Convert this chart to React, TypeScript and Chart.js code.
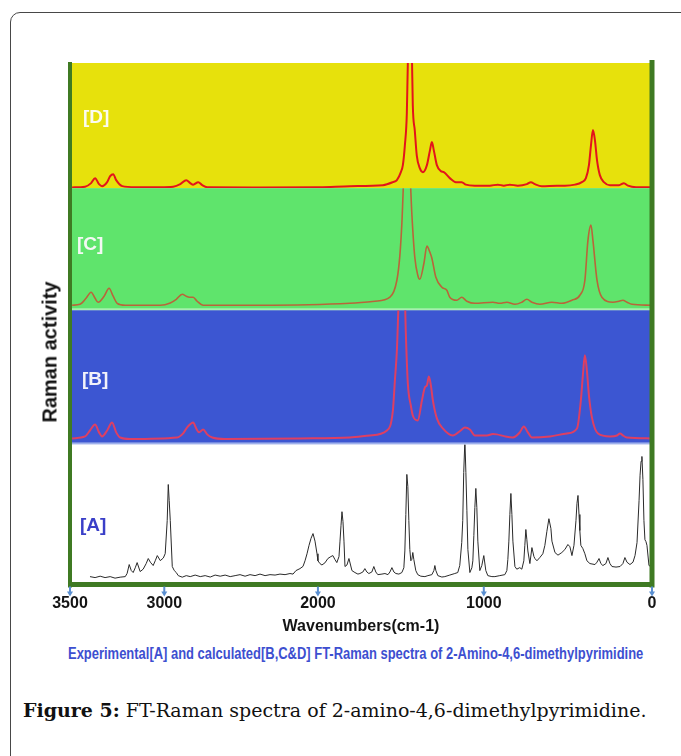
import React, { useEffect, useRef } from 'react';
import { Chart, LinearScale, registerables } from 'chart.js';

Chart.register(...registerables);

// ---------- axis description ----------
const tickValues = [3500, 3000, 2000, 1000, 0];
// the printed axis is not uniform: where each break value sits along the axis (0 = right end, 1 = left end)
const axisBreakValues = [0, 1000, 2000, 3000, 3500];
const axisBreakFractions = [0, 0.289, 0.574, 0.838, 1];

// ---------- spectra: [wavenumber cm-1, relative intensity] ----------
const spectrumD: [number, number][] = [
  [3489, 0.6], [3420, 1.2], [3388, 4], [3367, 8], [3346, 3.2], [3330, 1.6], [3303, 4.8], [3287, 9.6], [3271, 11.2],
  [3255, 6.4], [3223, 1.6], [3154, 0.8], [3021, 0.8], [2942, 1.2], [2896, 3.2], [2857, 6.4], [2831, 4], [2812, 2.8],
  [2779, 4.8], [2753, 2.4], [2721, 0.8], [2377, 0.6], [1988, 0.8], [1807, 1.6], [1608, 2.4], [1548, 4.8], [1524, 6.4],
  [1500, 12.8], [1488, 18.4], [1476, 34], [1464, 60], [1458, 100], [1446, 140], [1434, 110], [1428, 66], [1416, 46],
  [1404, 26], [1386, 16], [1367, 12.8], [1343, 18.4], [1325, 30], [1313, 36.8], [1301, 30], [1283, 18.4], [1259, 13.6],
  [1241, 12.8], [1205, 8], [1169, 4.8], [1133, 4.8], [1108, 2.8], [1054, 2], [964, 2], [917, 2.8], [881, 2], [845, 2.8],
  [798, 2], [744, 3.2], [720, 4.8], [696, 3.2], [655, 1.6], [565, 2], [518, 2], [458, 2.8], [417, 4.8], [393, 8],
  [375, 18.4], [363, 34], [351, 46.4], [339, 38], [327, 22.4], [310, 10.4], [286, 4.8], [250, 2.4], [196, 2.4],
  [167, 4], [143, 2], [95, 0.8], [6, 0.8],
];

const spectrumC: [number, number][] = [
  [3489, 4.1], [3447, 4.9], [3415, 9.8], [3388, 14.8], [3367, 9.8], [3351, 6.6], [3319, 11.5], [3293, 18], [3271, 11.5],
  [3250, 5.7], [3207, 4.1], [3021, 4.1], [2961, 6], [2922, 9], [2883, 13.1], [2857, 11.5], [2838, 10.7], [2812, 10.7],
  [2786, 7.4], [2747, 4.1], [2377, 4.1], [1807, 5.7], [1657, 7.4], [1566, 10.7], [1524, 24.6], [1506, 45], [1494, 71],
  [1482, 110], [1464, 135], [1446, 115], [1434, 79.5], [1416, 43.4], [1398, 28.7], [1386, 25.4], [1361, 38.5],
  [1343, 52.5], [1325, 47.5], [1313, 42.6], [1289, 27], [1253, 18.9], [1223, 16.4], [1205, 10.7], [1163, 8.2],
  [1133, 10.7], [1102, 7.4], [1054, 5.7], [946, 6.6], [905, 5.7], [863, 6.6], [815, 4.9], [774, 6.6], [744, 9],
  [714, 6.6], [667, 4.9], [595, 6.6], [536, 5.7], [476, 8.2], [429, 12.3], [399, 24.6], [381, 57], [363, 69.7],
  [351, 57], [327, 24.6], [298, 10.7], [232, 6.6], [196, 7.4], [173, 8.2], [149, 6.6], [119, 4.9], [6, 4.1],
];

const spectrumB: [number, number][] = [
  [3489, 4.5], [3420, 6], [3394, 10.4], [3367, 14.9], [3346, 9], [3330, 6], [3303, 10.4], [3277, 16.4], [3255, 9],
  [3234, 5.2], [3181, 4.1], [2916, 5.2], [2877, 8.2], [2851, 12.7], [2812, 16.4], [2792, 11.9], [2773, 9], [2747, 11.2],
  [2721, 7.5], [2688, 5.2], [2604, 4.1], [2117, 4.5], [1807, 5.2], [1687, 6.7], [1584, 10.4], [1548, 25.4],
  [1536, 47.8], [1524, 70], [1512, 110], [1494, 130], [1476, 110], [1470, 82.8], [1458, 45.5], [1440, 29],
  [1428, 21.6], [1398, 17.9], [1373, 32.8], [1355, 42.5], [1343, 44], [1331, 50.7], [1319, 44], [1307, 32.8],
  [1283, 19.4], [1247, 11.9], [1187, 6.7], [1139, 10.4], [1114, 12.7], [1084, 11.2], [1054, 6.7], [982, 6.7],
  [946, 7.8], [923, 7.5], [875, 6], [827, 5.2], [786, 9], [762, 13.4], [738, 9], [714, 5.2], [607, 6], [506, 8.2],
  [446, 11.9], [423, 32.8], [411, 51.5], [399, 66.4], [387, 55], [375, 36.6], [357, 20], [321, 8.2], [250, 6],
  [208, 6.7], [190, 8.2], [173, 6.7], [149, 5.2], [6, 4.5],
];

const spectrumA: [number, number][] = [
  [3394, 5.7], [3367, 5.0], [3340, 6.0], [3314, 5.0], [3287, 5.7], [3261, 4.6], [3234, 5.3], [3207, 5.7], [3197, 8],
  [3186, 14.3], [3175, 10], [3165, 8.6], [3154, 12], [3144, 15.7], [3128, 9.3], [3112, 11], [3096, 15], [3085, 18.6],
  [3074, 16], [3059, 13.6], [3048, 17], [3037, 20.7], [3021, 17.1], [3005, 19], [2994, 22.1], [2981, 45.7],
  [2974, 71.4], [2968, 60], [2961, 45.7], [2948, 12.9], [2935, 10], [2922, 8.6], [2909, 6.4], [2883, 5.3], [2857, 6.4],
  [2831, 5.7], [2799, 6.8], [2766, 5.7], [2734, 6.4], [2701, 5.4], [2669, 6.8], [2636, 6.0], [2604, 6.8], [2571, 5.7],
  [2539, 6.4], [2507, 7.1], [2474, 6.0], [2442, 7.1], [2409, 6.4], [2377, 7.5], [2344, 6.4], [2312, 7.1], [2279, 6.8],
  [2247, 7.5], [2214, 7.1], [2182, 7.9], [2162, 7.5], [2143, 10], [2117, 11.4], [2097, 13], [2084, 17], [2071, 22],
  [2058, 28], [2045, 33], [2032, 36.4], [2019, 31], [2006, 22], [2000, 17], [1988, 15], [1976, 14], [1958, 15.5],
  [1940, 18.6], [1922, 20], [1910, 20.7], [1898, 18], [1886, 15.7], [1873, 20], [1867, 31], [1861, 42], [1855, 52],
  [1849, 45], [1843, 31], [1837, 12.9], [1825, 14], [1813, 18.6], [1795, 10], [1777, 8.6], [1759, 7.5], [1747, 7.9],
  [1729, 9], [1717, 11.4], [1705, 9], [1693, 7.9], [1675, 9], [1663, 12.9], [1651, 9], [1639, 7.1], [1614, 7.5],
  [1596, 7.9], [1578, 7.1], [1566, 9], [1554, 12.1], [1542, 9], [1530, 7.9], [1512, 7.5], [1494, 8.6], [1482, 12],
  [1476, 24], [1470, 50], [1464, 78.6], [1458, 70], [1452, 45.7], [1446, 25], [1440, 17], [1434, 18], [1428, 22.9],
  [1422, 18], [1410, 10], [1398, 7.1], [1380, 6.0], [1355, 5.7], [1337, 6.4], [1313, 7.1], [1301, 10], [1295, 13.6],
  [1289, 10], [1277, 6.4], [1253, 5.4], [1235, 5.7], [1205, 6.8], [1175, 7.9], [1157, 8.6], [1145, 13.6], [1133, 30],
  [1127, 45.7], [1121, 80], [1114, 103], [1108, 80], [1102, 53], [1096, 25], [1084, 8.6], [1072, 12], [1066, 17],
  [1060, 35], [1054, 55], [1048, 68.6], [1042, 55], [1036, 31], [1024, 10], [1012, 13.6], [1000, 20.7], [988, 10],
  [976, 6.4], [952, 5.7], [934, 5.7], [905, 6.4], [875, 7.1], [863, 10], [857, 18], [851, 31], [845, 50], [839, 65],
  [833, 50], [827, 31], [815, 12.9], [804, 11], [786, 12.1], [774, 11], [762, 17], [756, 28], [750, 39.3], [744, 32],
  [738, 24], [726, 15], [714, 26.4], [702, 20], [696, 18.6], [684, 17], [667, 19.3], [649, 22], [637, 27.9], [625, 38],
  [613, 47], [601, 40], [595, 31], [577, 22.9], [559, 21], [536, 22.9], [518, 25], [500, 28.6], [488, 27], [476, 20.7],
  [464, 28], [452, 45.7], [446, 58], [440, 63.6], [434, 50], [429, 38.6], [423, 28], [411, 25.7], [399, 22], [387, 17],
  [369, 15], [339, 14.3], [327, 16], [315, 18.6], [304, 15], [292, 13.6], [274, 15], [262, 19.3], [250, 15],
  [238, 12.9], [214, 12.5], [190, 12.9], [173, 15], [161, 19.3], [149, 16], [131, 14.3], [113, 16], [101, 20.7],
  [89, 30], [77, 60], [71, 78], [65, 88], [60, 91.4], [54, 75], [48, 45.7], [42, 32], [36, 30.7], [30, 28], [18, 13.6],
  [6, 12.9],
];

const panelLabels = ['[A]', '[B]', '[C]', '[D]'];

// ---------- segmented x scale ----------
function valueToFraction(v: number) {
  const vs = axisBreakValues, fs = axisBreakFractions;
  for (let i = 1; i < vs.length; i++) {
    if (v <= vs[i] || i === vs.length - 1) {
      return fs[i - 1] + ((v - vs[i - 1]) / (vs[i] - vs[i - 1])) * (fs[i] - fs[i - 1]);
    }
  }
  return 0;
}
function fractionToValue(f: number) {
  const vs = axisBreakValues, fs = axisBreakFractions;
  for (let i = 1; i < fs.length; i++) {
    if (f <= fs[i] || i === fs.length - 1) {
      return vs[i - 1] + ((f - fs[i - 1]) / (fs[i] - fs[i - 1])) * (vs[i] - vs[i - 1]);
    }
  }
  return 0;
}

class SegmentedScale extends (LinearScale as any) {
  static id = 'segmented';
  getPixelForValue(value: any) {
    if (value === null || value === undefined || isNaN(value)) return NaN;
    return (this as any).getPixelForDecimal(valueToFraction(value));
  }
  getValueForPixel(pixel: number) {
    return fractionToValue((this as any).getDecimalForPixel(pixel));
  }
}
Chart.register(SegmentedScale as any);

const SANS = '"Liberation Sans", Arial, Helvetica, sans-serif';

const panelBg: Record<string, string> = { yD: '#e7e10c', yC: '#5fe46c', yB: '#3c56d2', yA: '#ffffff' };
const panelEdge: Record<string, string> = { yC: '#a6f0ae', yB: '#9fb1ec' };

const decorPlugin = {
  id: 'decor',
  beforeDatasetsDraw(chart: any) {
    const { ctx, chartArea } = chart;
    ctx.save();
    for (const id of ['yD', 'yC', 'yB', 'yA']) {
      const s = chart.scales[id];
      ctx.fillStyle = panelBg[id];
      ctx.fillRect(chartArea.left, s.top, chartArea.right - chartArea.left, s.bottom - s.top);
      if (panelEdge[id]) {
        ctx.fillStyle = panelEdge[id];
        ctx.fillRect(chartArea.left, s.bottom - 2, chartArea.right - chartArea.left, 2);
      }
    }
    ctx.restore();
  },
  beforeDatasetDraw(chart: any, args: any) {
    const { ctx, chartArea } = chart;
    const ds = chart.data.datasets[args.index];
    const s = chart.scales[ds.yAxisID];
    ctx.save();
    ctx.beginPath();
    ctx.rect(chartArea.left, s.top, chartArea.right - chartArea.left, s.bottom - s.top);
    ctx.clip();
  },
  afterDatasetDraw(chart: any) {
    chart.ctx.restore();
  },
  afterDatasetsDraw(chart: any) {
    const { ctx, chartArea } = chart;
    const x = chart.scales.x;
    ctx.save();
    // panel labels
    ctx.font = `bold 19px ${SANS}`;
    ctx.textBaseline = 'middle';
    ctx.textAlign = 'left';
    const lab = [
      { id: 'yD', text: panelLabels[3], dx: 13, dy: 55, color: '#fbfbf0' },
      { id: 'yC', text: panelLabels[2], dx: 7, dy: 57, color: '#f4f8f4' },
      { id: 'yB', text: panelLabels[1], dx: 12, dy: 69, color: '#f2f2fa' },
      { id: 'yA', text: panelLabels[0], dx: 10, dy: 81, color: '#3a3fc8' },
    ];
    for (const l of lab) {
      ctx.fillStyle = l.color;
      ctx.fillText(l.text, chartArea.left + l.dx, chart.scales[l.id].top + l.dy);
    }
    // frame
    ctx.strokeStyle = '#3f7a23';
    ctx.lineCap = 'butt';
    ctx.lineWidth = 4;
    ctx.beginPath();
    ctx.moveTo(chartArea.left, chartArea.top - 1);
    ctx.lineTo(chartArea.left, chartArea.bottom + 3);
    ctx.stroke();
    ctx.lineWidth = 5;
    ctx.beginPath();
    ctx.moveTo(chartArea.right, chartArea.top - 3);
    ctx.lineTo(chartArea.right, chartArea.bottom + 3);
    ctx.stroke();
    ctx.beginPath();
    ctx.moveTo(chartArea.left - 2, chartArea.bottom);
    ctx.lineTo(chartArea.right + 2, chartArea.bottom);
    ctx.stroke();
    // arrow ticks
    ctx.fillStyle = '#5a8fd1';
    ctx.strokeStyle = '#5a8fd1';
    ctx.lineWidth = 2;
    for (const v of tickValues) {
      const px = x.getPixelForValue(v);
      const y0 = chartArea.bottom + 2;
      ctx.beginPath();
      ctx.moveTo(px, y0);
      ctx.lineTo(px, y0 + 6);
      ctx.stroke();
      ctx.beginPath();
      ctx.moveTo(px - 3, y0 + 5);
      ctx.lineTo(px + 3, y0 + 5);
      ctx.lineTo(px, y0 + 10);
      ctx.closePath();
      ctx.fill();
    }
    ctx.restore();
  },
};

const toPoints = (s: [number, number][]) => s.map(([w, v]) => ({ x: w, y: v }));

export default function App() {
  const ref = useRef<HTMLCanvasElement | null>(null);
  const capRef = useRef<HTMLSpanElement | null>(null);

  useEffect(() => {
    const el = capRef.current;
    if (el) {
      const w = el.offsetWidth;
      if (w > 0) el.style.transform = `scaleX(${575 / w})`;
    }
  }, []);

  useEffect(() => {
    if (!ref.current) return;
    const hidden = (weight: number, stackWeight: number) => ({
      type: 'linear' as const,
      position: 'left' as const,
      stack: 'panels',
      stackWeight,
      weight,
      min: 0,
      max: 100,
      display: false,
    });
    const chart = new Chart(ref.current, {
      type: 'line',
      data: {
        datasets: [
          { label: 'D', data: toPoints(spectrumD), yAxisID: 'yD', borderColor: '#e3141b', borderWidth: 2, pointRadius: 0, fill: false, cubicInterpolationMode: 'monotone' },
          { label: 'C', data: toPoints(spectrumC), yAxisID: 'yC', borderColor: '#b9653a', borderWidth: 1.6, pointRadius: 0, fill: false, cubicInterpolationMode: 'monotone' },
          { label: 'B', data: toPoints(spectrumB), yAxisID: 'yB', borderColor: '#de3f62', borderWidth: 2, pointRadius: 0, fill: false, cubicInterpolationMode: 'monotone' },
          { label: 'A', data: toPoints(spectrumA), yAxisID: 'yA', borderColor: '#2a2a2a', borderWidth: 1, pointRadius: 0, fill: false, tension: 0 },
        ] as any,
      },
      options: {
        animation: false,
        responsive: true,
        maintainAspectRatio: false,
        events: [],
        layout: { padding: { left: 70, right: 29, top: 63, bottom: 4 } },
        plugins: { legend: { display: false }, tooltip: { enabled: false }, title: { display: false } },
        scales: {
          x: {
            type: 'segmented' as any,
            position: 'bottom',
            min: 0,
            max: 3500,
            reverse: true,
            grid: { display: false, drawTicks: false },
            border: { display: false },
            afterBuildTicks: (s: any) => {
              s.ticks = tickValues.map((v) => ({ value: v }));
            },
            ticks: {
              padding: 9,
              autoSkip: false,
              maxRotation: 0,
              color: '#141414',
              font: { family: SANS, size: 16, weight: 'bold' },
              callback: (v: any) => String(v),
            },
            title: {
              display: true,
              text: 'Wavenumbers(cm-1)',
              color: '#141414',
              font: { family: SANS, size: 16, weight: 'bold' },
              padding: { top: -5, bottom: 0 },
            },
          } as any,
          yA: hidden(1, 140),
          yB: hidden(2, 134),
          yC: hidden(3, 122),
          yD: hidden(4, 125),
        } as any,
      },
      plugins: [decorPlugin as any],
    });
    return () => chart.destroy();
  }, []);

  return (
    <div style={{ position: 'fixed', left: 0, top: 0, width: 681, height: 756, overflow: 'hidden', background: '#ffffff' }}>
      <div
        style={{
          position: 'absolute', left: 10, top: 12, width: 760, height: 820,
          border: '1.5px solid #474747', borderRadius: 10, boxSizing: 'border-box',
        }}
      />
      <div style={{ position: 'absolute', left: 0, top: 0, width: 681, height: 640 }}>
        <canvas ref={ref} />
      </div>
      <div
        style={{
          position: 'absolute', left: 50, top: 352, transform: 'translate(-50%, -50%) rotate(-90deg)',
          whiteSpace: 'nowrap', font: `bold 20px ${SANS}`, color: '#111111',
        }}
      >
        Raman activity
      </div>
      <div style={{ position: 'absolute', left: 68, top: 645, width: 800, whiteSpace: 'nowrap' }}>
        <span
          ref={capRef}
          style={{
            display: 'inline-block', transformOrigin: '0 0', whiteSpace: 'nowrap',
            font: `bold 16px ${SANS}`, color: '#3d4fd0',
          }}
        >
          Experimental[A] and calculated[B,C&amp;D] FT-Raman spectra of 2-Amino-4,6-dimethylpyrimidine
        </span>
      </div>
      <div
        style={{
          position: 'absolute', left: 23, top: 699, whiteSpace: 'nowrap',
          font: '19px "DejaVu Serif", serif', color: '#111111',
        }}
      >
        <b>Figure 5:</b> FT-Raman spectra of 2-amino-4,6-dimethylpyrimidine.
      </div>
    </div>
  );
}
